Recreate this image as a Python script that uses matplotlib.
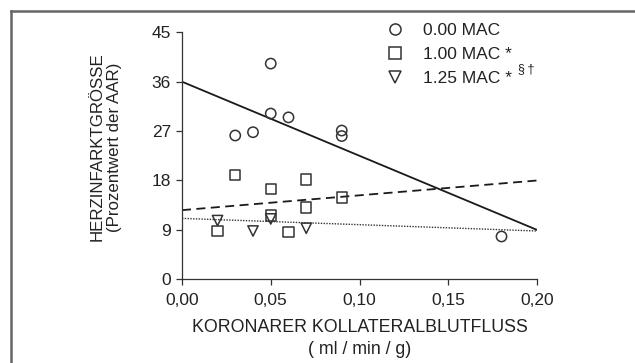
import numpy as np
import matplotlib
matplotlib.use("Agg")
import matplotlib.pyplot as plt
from matplotlib.lines import Line2D

plt.rcParams['font.family'] = ['Liberation Sans', 'DejaVu Sans']

# 0.00 MAC (circles)
mac0_x = [0.03, 0.04, 0.05, 0.05, 0.06, 0.09, 0.09, 0.18]
mac0_y = [26.2, 26.8, 39.3, 30.2, 29.5, 27.1, 26.1, 7.8]
# 1.00 MAC (squares)
mac1_x = [0.03, 0.05, 0.07, 0.07, 0.09, 0.05, 0.02, 0.06]
mac1_y = [19.0, 16.4, 18.2, 13.1, 14.9, 11.6, 8.8, 8.6]
# 1.25 MAC (triangles)
mac125_x = [0.02, 0.04, 0.05, 0.07]
mac125_y = [10.7, 8.8, 11.0, 9.3]

# regression lines, values at x = 0.00 and x = 0.20
line_x = [0.0, 0.20]
fit0 = [36.0, 9.0]
fit1 = [12.6, 18.0]
fit125 = [11.1, 8.8]

xticks = [0.0, 0.05, 0.10, 0.15, 0.20]
xticklabels = ["0,00", "0,05", "0,10", "0,15", "0,20"]
yticks = [0, 9, 18, 27, 36, 45]
legend_labels = ["0.00 MAC", "1.00 MAC *", "1.25 MAC *"]

fig = plt.figure(figsize=(6.35, 3.63), dpi=100)
ax = fig.add_axes([0.2866, 0.2306, 0.5591, 0.6804])

ax.plot(line_x, fit0, color='#1a1a1a', lw=1.3, ls='-')
ax.plot(line_x, fit1, color='#1a1a1a', lw=1.3, ls=(0, (5, 3)))
ax.plot(line_x, fit125, color='#333333', lw=1.0, ls=(0, (1, 1)))

mk = dict(facecolor='none', edgecolor='#333333', linewidths=1.1, s=55, zorder=3, clip_on=False)
ax.scatter(mac0_x, mac0_y, marker='o', **mk)
ax.scatter(mac1_x, mac1_y, marker='s', **mk)
ax.scatter(mac125_x, mac125_y, marker='v', **mk)

ax.set_xlim(0, 0.20)
ax.set_ylim(0, 45)
ax.set_xticks(xticks)
ax.set_xticklabels(xticklabels)
ax.set_yticks(yticks)
ax.spines['top'].set_visible(False)
ax.spines['right'].set_visible(False)
for s in ['left', 'bottom']:
    ax.spines[s].set_color('#333333')
    ax.spines[s].set_linewidth(0.9)
ax.tick_params(direction='out', length=4, width=0.9, color='#333333', labelsize=12.5,
               labelcolor='#222222', pad=4)
ax.tick_params(axis='x', pad=6)

# legend
handles = [
    Line2D([], [], marker='o', ls='none', mfc='none', mec='#333333', ms=8, mew=1.1),
    Line2D([], [], marker='s', ls='none', mfc='none', mec='#333333', ms=8, mew=1.1),
    Line2D([], [], marker='v', ls='none', mfc='none', mec='#333333', ms=8, mew=1.1),
]
fig.legend(handles, legend_labels, loc='upper left', bbox_to_anchor=(0.57, 0.979),
           frameon=False, fontsize=12.5, handletextpad=0.6, labelspacing=0.51,
           labelcolor='#222222')
# superscript after third label
fig.text(0.815, 0.81, "§\u2009†", ha='left', va='center', fontsize=9, color='#222222')

fig.text(0.153, 0.595, "HERZINFARKTGRÖSSE", rotation=90, ha='center', va='center',
         fontsize=12.2, color='#222222')
fig.text(0.181, 0.595, "(Prozentwert der AAR)", rotation=90, ha='center', va='center',
         fontsize=12.2, color='#222222')
fig.text(0.567, 0.097, "KORONARER KOLLATERALBLUTFLUSS", ha='center', va='center',
         fontsize=12.8, color='#222222')
fig.text(0.567, 0.036, "( ml / min / g)", ha='center', va='center',
         fontsize=12.8, color='#222222')

# figure frame lines (top and left)
fig.add_artist(Line2D([0.017, 1.0], [0.971, 0.971], transform=fig.transFigure,
                      color='#666666', lw=1.8))
fig.add_artist(Line2D([0.018, 0.018], [0.0, 0.971], transform=fig.transFigure,
                      color='#666666', lw=1.8))

fig.savefig("out.png", dpi=100)
